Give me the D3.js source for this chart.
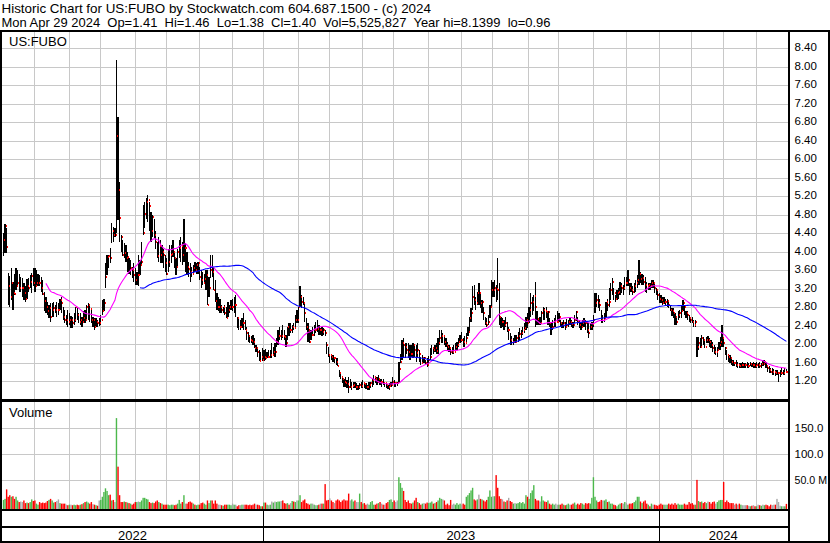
<!DOCTYPE html>
<html><head><meta charset="utf-8">
<script src="https://cdn.jsdelivr.net/npm/d3@7/dist/d3.min.js"></script>
<style>
body{margin:0;background:#fff;}
svg{display:block;font-family:Arial,"Liberation Sans",sans-serif;}
</style></head><body>
<svg id="c" width="830" height="543"></svg>
<script>
// ---- data ----
const highs=[4.40,4.60,4.51,3.55,3.48,3.64,3.35,3.52,3.66,3.61,3.53,3.46,3.43,3.32,3.25,3.41,3.43,3.50,3.55,3.64,
3.64,3.61,3.53,3.50,3.46,3.39,3.14,3.03,2.92,2.85,2.89,2.89,2.92,2.85,2.92,2.89,2.99,3.03,2.81,2.74,
2.63,2.74,2.67,2.61,2.60,2.67,2.81,2.78,2.67,2.67,2.60,2.71,2.74,2.85,2.89,2.85,2.74,2.60,2.56,2.56,
2.53,2.56,2.63,2.96,2.99,3.75,3.93,3.93,4.08,4.62,4.54,4.51,8.14,6.92,5.52,4.36,4.25,4.18,4.15,4.00,
3.86,3.82,3.68,3.75,3.64,3.57,3.93,3.82,4.22,5.01,5.08,5.16,5.23,5.08,4.87,4.80,4.72,4.44,4.22,4.33,
4.25,4.15,4.07,3.93,3.86,4.07,4.15,4.15,4.25,4.00,3.86,4.07,4.25,4.33,4.22,4.72,4.18,4.00,3.79,3.75,
3.68,3.71,3.79,3.75,3.79,3.68,3.61,3.57,3.53,3.61,3.61,3.46,3.93,3.93,3.68,3.39,3.10,3.03,2.99,2.85,
2.81,2.85,2.81,2.92,2.85,2.96,2.99,3.03,3.07,2.60,2.56,2.53,2.56,2.67,2.53,2.38,2.27,2.20,2.17,2.20,
2.13,1.98,1.91,1.88,1.84,1.91,1.88,1.89,1.84,1.88,1.88,2.02,1.95,2.02,2.13,2.31,2.38,2.31,2.42,2.31,
2.20,2.38,2.45,2.45,2.42,2.45,2.63,2.74,2.81,3.26,3.07,3.03,2.89,2.56,2.45,2.31,2.31,2.38,2.42,2.49,
2.53,2.42,2.35,2.38,2.35,2.31,2.06,1.95,1.80,1.77,1.77,1.70,1.70,1.70,1.44,1.37,1.30,1.26,1.30,1.23,
1.30,1.26,1.19,1.19,1.19,1.16,1.12,1.16,1.19,1.23,1.19,1.16,1.12,1.19,1.19,1.26,1.34,1.30,1.30,1.34,
1.26,1.26,1.26,1.19,1.16,1.12,1.16,1.19,1.30,1.23,1.19,1.19,1.62,1.80,2.09,2.13,2.02,2.02,2.02,1.98,
1.98,2.02,1.98,1.98,2.02,1.88,1.73,1.77,1.73,1.66,1.70,1.75,1.91,1.98,1.95,1.98,2.02,2.13,2.31,2.31,
2.24,2.17,2.13,2.06,1.98,1.95,1.95,1.98,2.02,2.06,2.13,2.20,2.27,2.13,2.17,2.24,2.38,2.60,2.78,3.25,
3.28,3.03,3.14,3.32,3.14,2.96,2.81,2.60,2.56,2.63,2.85,3.39,3.35,3.39,3.28,3.86,3.32,2.60,2.56,2.53,
2.60,2.49,2.38,2.24,2.17,2.13,2.20,2.20,2.27,2.35,2.31,2.38,2.45,2.60,2.67,2.81,3.10,3.03,3.07,3.35,
2.71,2.56,2.60,2.71,2.81,2.78,2.81,2.72,2.56,2.49,2.53,2.56,2.63,2.71,2.67,2.53,2.49,2.53,2.49,2.54,
2.53,2.56,2.53,2.49,2.63,2.71,2.60,2.53,2.49,2.53,2.56,2.53,2.49,2.45,2.45,2.49,2.63,3.10,3.10,3.07,
2.99,2.74,2.63,2.67,2.92,2.99,3.21,3.32,3.43,3.21,3.07,3.17,3.21,3.35,3.32,3.28,3.46,3.46,3.61,3.32,
3.32,3.25,3.32,3.39,3.50,3.82,3.57,3.53,3.50,3.46,3.35,3.32,3.32,3.39,3.39,3.32,3.21,3.17,3.10,3.07,
3.03,3.02,2.99,2.99,2.96,2.85,2.78,2.78,2.67,2.60,2.71,2.74,2.85,2.96,2.85,2.71,2.71,2.63,2.60,2.60,
2.53,2.53,2.16,2.16,2.13,2.20,2.16,2.09,2.16,2.18,2.13,2.09,2.06,1.98,1.95,1.95,2.06,2.16,2.42,2.16,
1.95,1.88,1.80,1.77,1.70,1.66,1.62,1.65,1.62,1.60,1.59,1.62,1.59,1.60,1.62,1.60,1.62,1.59,1.62,1.59,
1.62,1.60,1.62,1.59,1.65,1.66,1.62,1.55,1.52,1.48,1.48,1.46,1.44,1.44,1.41,1.44,1.48,1.44,1.48,1.46];
const lows=[3.90,3.97,3.97,2.85,2.80,2.96,2.74,3.07,3.18,3.25,3.14,3.14,3.03,2.96,2.92,2.99,3.14,3.21,3.10,3.25,
3.14,3.25,3.25,3.25,3.14,3.07,2.71,2.67,2.63,2.56,2.49,2.60,2.60,2.67,2.60,2.63,2.74,2.67,2.53,2.45,
2.42,2.38,2.42,2.35,2.35,2.42,2.49,2.53,2.45,2.42,2.38,2.45,2.45,2.53,2.53,2.49,2.45,2.38,2.32,2.38,
2.38,2.40,2.42,2.63,2.71,3.21,3.50,3.64,3.75,4.18,4.22,4.33,4.40,4.69,4.22,4.00,3.90,3.86,3.79,3.57,
3.53,3.50,3.43,3.35,3.28,3.28,3.25,3.50,3.71,4.36,4.51,4.72,4.65,4.44,4.22,4.33,4.29,4.07,3.86,3.79,
3.75,3.75,3.64,3.57,3.50,3.57,3.68,3.75,3.89,3.64,3.50,3.64,3.86,3.79,3.71,3.79,3.57,3.50,3.46,3.35,
3.46,3.53,3.57,3.53,3.53,3.39,3.21,3.28,3.35,3.17,2.85,3.03,3.43,3.46,3.17,2.92,2.74,2.71,2.67,2.67,
2.67,2.63,2.56,2.60,2.67,2.74,2.71,2.67,2.60,2.35,2.31,2.31,2.35,2.31,2.31,2.09,2.06,2.02,2.02,1.98,
1.91,1.84,1.73,1.63,1.66,1.63,1.63,1.66,1.70,1.70,1.70,1.70,1.77,1.73,1.95,1.98,2.09,2.09,2.13,2.09,
1.95,2.09,2.17,2.24,2.24,2.31,2.38,2.45,2.45,2.81,2.78,2.85,2.49,2.31,2.06,2.02,2.09,2.17,2.17,2.24,
2.27,2.20,2.20,2.17,2.20,2.17,1.79,1.73,1.59,1.65,1.62,1.59,1.55,1.52,1.30,1.25,1.16,1.08,1.08,1.05,
0.95,1.05,1.01,1.05,1.05,1.01,1.01,1.03,1.05,1.05,1.05,1.03,1.01,1.01,1.05,1.08,1.12,1.16,1.12,1.16,
1.12,1.08,1.12,1.08,1.05,1.03,1.01,1.08,1.12,1.08,1.08,1.10,1.16,1.59,1.66,1.70,1.70,1.80,1.70,1.66,
1.73,1.70,1.73,1.62,1.73,1.62,1.55,1.59,1.59,1.55,1.50,1.55,1.66,1.77,1.80,1.84,1.80,1.80,1.98,2.02,
2.02,1.98,1.95,1.88,1.84,1.77,1.79,1.80,1.84,1.88,1.95,2.02,2.06,1.95,1.95,2.02,2.17,2.27,2.49,2.74,
2.85,2.74,2.85,2.85,2.78,2.67,2.53,2.42,2.38,2.42,2.56,2.81,3.03,3.03,2.92,2.96,2.42,2.35,2.38,2.31,
2.38,2.27,2.09,1.98,1.98,1.98,2.02,2.04,2.06,2.09,2.13,2.20,2.24,2.31,2.35,2.45,2.60,2.63,2.71,2.38,
2.42,2.42,2.42,2.49,2.53,2.53,2.56,2.42,2.37,2.20,2.31,2.38,2.38,2.45,2.49,2.38,2.35,2.35,2.31,2.37,
2.38,2.42,2.38,2.35,2.45,2.51,2.42,2.35,2.31,2.35,2.38,2.31,2.24,2.13,2.31,2.31,2.37,2.67,2.81,2.78,
2.71,2.45,2.45,2.49,2.60,2.71,2.81,2.96,3.07,2.96,2.92,2.96,2.99,3.07,3.10,3.07,3.17,3.25,3.25,3.07,
3.14,3.07,3.10,3.14,3.21,3.28,3.32,3.28,3.28,3.14,3.10,3.17,3.17,3.21,3.21,3.10,3.07,2.96,2.89,2.89,
2.85,2.87,2.85,2.81,2.78,2.71,2.61,2.56,2.42,2.42,2.53,2.56,2.56,2.71,2.63,2.56,2.53,2.49,2.45,2.45,
2.38,2.38,1.73,1.88,1.91,1.95,1.98,1.91,2.02,2.02,1.95,1.91,1.84,1.80,1.77,1.73,1.88,1.88,1.95,1.95,
1.77,1.66,1.62,1.59,1.55,1.52,1.52,1.50,1.48,1.48,1.48,1.48,1.48,1.48,1.48,1.48,1.52,1.50,1.48,1.48,
1.48,1.48,1.48,1.48,1.52,1.55,1.48,1.41,1.39,1.37,1.34,1.34,1.31,1.34,1.19,1.30,1.34,1.34,1.34,1.38];
const closes=[4.26,4.56,4.11,3.25,3.03,3.33,3.10,3.09,3.25,3.32,3.21,3.21,3.21,3.10,2.98,3.25,3.21,3.35,3.48,3.32,
3.25,3.32,3.33,3.32,3.21,3.09,2.94,2.81,2.71,2.78,2.60,2.74,2.78,2.74,2.74,2.74,2.96,2.89,2.60,2.53,
2.53,2.49,2.53,2.53,2.45,2.53,2.80,2.63,2.49,2.53,2.49,2.56,2.53,2.80,2.85,2.76,2.53,2.53,2.37,2.49,
2.45,2.45,2.53,2.71,2.89,3.46,3.89,3.91,3.86,4.44,4.36,4.36,6.50,5.34,4.74,4.33,3.93,3.97,3.87,3.89,
3.61,3.64,3.61,3.50,3.38,3.50,3.50,3.71,3.79,4.41,4.81,5.08,5.11,4.99,4.46,4.76,4.36,4.22,3.91,4.13,
3.93,4.00,3.93,3.75,3.53,3.79,3.93,3.95,4.00,3.86,3.68,4.00,4.08,4.13,3.93,4.09,4.09,3.68,3.62,3.57,
3.53,3.64,3.61,3.71,3.75,3.46,3.39,3.32,3.41,3.50,2.85,3.21,3.61,3.57,3.17,2.94,2.81,2.81,2.81,2.74,
2.80,2.67,2.56,2.74,2.80,2.81,2.81,2.85,2.85,2.56,2.38,2.38,2.45,2.45,2.32,2.24,2.17,2.09,2.08,2.06,
1.91,1.91,1.84,1.63,1.73,1.66,1.73,1.70,1.73,1.73,1.77,1.77,1.84,1.84,2.06,2.17,2.18,2.18,2.17,2.15,
2.02,2.38,2.31,2.31,2.38,2.35,2.53,2.53,2.80,3.03,2.92,2.89,2.67,2.38,2.31,2.04,2.20,2.20,2.31,2.31,
2.33,2.31,2.31,2.27,2.31,2.24,1.98,1.77,1.77,1.72,1.70,1.70,1.62,1.53,1.37,1.30,1.26,1.19,1.16,1.14,
1.08,1.08,1.10,1.12,1.08,1.08,1.08,1.12,1.10,1.16,1.14,1.08,1.08,1.12,1.16,1.23,1.30,1.24,1.19,1.26,
1.19,1.19,1.16,1.16,1.13,1.08,1.10,1.12,1.19,1.16,1.16,1.16,1.46,1.62,2.02,1.98,1.95,1.88,1.84,1.80,
1.79,1.98,1.88,1.82,1.88,1.80,1.59,1.70,1.70,1.59,1.55,1.66,1.73,1.91,1.88,1.91,1.86,2.02,2.13,2.17,
2.17,2.06,1.98,1.95,1.93,1.84,1.84,1.84,1.95,1.98,2.06,2.09,2.09,2.06,2.02,2.13,2.27,2.56,2.67,3.03,
2.96,2.89,3.10,3.10,2.89,2.92,2.67,2.45,2.42,2.49,2.81,3.17,3.17,3.21,3.19,3.17,2.58,2.49,2.49,2.42,
2.45,2.31,2.31,2.09,2.04,2.06,2.06,2.13,2.17,2.22,2.24,2.31,2.35,2.53,2.45,2.74,2.89,2.92,3.05,2.81,
2.55,2.47,2.47,2.67,2.74,2.71,2.69,2.70,2.47,2.35,2.38,2.49,2.49,2.49,2.60,2.45,2.42,2.45,2.37,2.42,
2.49,2.49,2.43,2.42,2.53,2.69,2.49,2.42,2.37,2.45,2.49,2.45,2.31,2.24,2.38,2.44,2.53,2.89,2.96,2.89,
2.85,2.53,2.53,2.56,2.92,2.85,2.92,3.17,3.35,3.10,2.97,3.10,3.14,3.25,3.21,3.21,3.32,3.32,3.39,3.21,
3.17,3.14,3.25,3.32,3.39,3.53,3.41,3.43,3.35,3.28,3.25,3.28,3.25,3.32,3.32,3.21,3.17,3.07,2.99,2.96,
2.89,2.92,2.92,2.94,2.85,2.74,2.71,2.67,2.60,2.49,2.63,2.67,2.71,2.89,2.81,2.67,2.63,2.56,2.53,2.49,
2.42,2.49,1.95,2.02,1.95,2.13,2.09,1.95,2.09,2.09,2.06,1.98,1.91,1.84,1.84,1.88,1.98,2.06,2.13,2.02,
1.91,1.77,1.73,1.70,1.62,1.59,1.59,1.55,1.55,1.53,1.55,1.55,1.55,1.55,1.53,1.53,1.57,1.55,1.55,1.53,
1.55,1.55,1.53,1.57,1.57,1.62,1.53,1.48,1.44,1.41,1.41,1.41,1.37,1.37,1.37,1.37,1.39,1.39,1.41,1.40];
const volumes=[13,15,33,19,22,19,20,15,19,12,9,10,9,12,7,8,7,9,14,11,
12,6,4,9,7,8,7,8,11,13,15,12,8,9,11,14,7,6,6,6,
4,3,4,4,3,4,3,4,3,4,5,7,9,10,8,6,9,5,4,3,
2,12,13,19,28,35,30,22,23,12,13,9,168,76,22,9,9,10,9,8,
7,6,4,6,9,9,10,9,12,17,17,15,14,9,7,8,7,10,12,9,
7,6,4,4,4,4,3,4,4,3,4,6,13,6,9,22,6,6,9,10,
8,6,4,3,4,4,7,8,6,4,12,7,12,12,6,12,6,4,4,3,
2,4,4,4,4,3,6,4,4,1,3,3,4,4,4,4,3,4,3,4,
6,4,4,3,1,1,8,8,4,3,4,10,8,10,9,10,10,11,12,7,
6,7,4,7,11,10,9,12,12,22,9,12,14,7,6,4,6,6,4,3,
3,4,6,6,6,43,12,13,16,12,9,7,12,14,12,9,12,14,12,12,
25,12,14,10,12,9,9,25,9,6,7,4,6,4,9,11,4,4,6,7,
9,6,4,4,7,9,13,14,9,12,9,12,56,45,36,30,13,9,12,7,
6,8,12,17,9,7,4,6,7,6,8,7,8,10,6,7,9,12,17,15,
14,12,4,6,3,13,4,6,4,7,4,6,4,6,4,19,22,26,31,36,
14,12,14,23,15,14,12,10,13,19,31,19,20,20,60,36,20,15,14,10,
9,12,17,11,9,6,7,6,7,9,7,9,6,22,19,15,26,31,41,15,
12,12,10,20,12,10,9,12,6,4,6,4,6,4,4,4,6,4,3,4,
6,4,4,6,8,4,6,4,7,6,4,7,6,7,6,17,56,19,12,9,
10,13,12,12,14,9,10,6,6,4,3,1,4,6,7,6,9,7,4,6,
6,7,9,12,19,19,10,7,10,12,6,4,1,6,4,4,3,2,4,6,
4,4,4,4,6,4,6,4,7,4,6,4,4,4,6,4,4,9,6,7,
4,4,51,11,9,10,7,9,7,10,9,6,9,10,6,9,12,13,13,47,
9,12,9,7,7,7,4,6,4,6,4,3,3,3,3,2,1,2,3,1,
1,4,3,2,4,3,4,3,1,4,3,4,4,15,9,2,1,1,1,5.5];
const priceTicks=[1.20,1.60,2.00,2.40,2.80,3.20,3.60,4.00,4.40,4.80,5.20,5.60,6.00,6.40,6.80,7.20,7.60,8.00,8.40];
const volTicks=[50,100,150];
const volTickLabels=["50.0 M","100.0","150.0"];
const monthStarts=[20,42,62,84,104,125,146,166,188,208,229,249,271,292,312,335,354,376,397,418,439,459,480];
const years=["2022","2023","2024"];
const yearStarts=[0,166,418];
const maPeriods=[28,88];
const maColors=["#ff00ff","#0000ff"];
const header1="Historic Chart for US:FUBO by Stockwatch.com 604.687.1500 - (c) 2024";
const header2="Mon Apr 29 2024  Op=1.41  Hi=1.46  Lo=1.38  Cl=1.40  Vol=5,525,827  Year hi=8.1399  lo=0.96";

// ---- layout ----
const N=closes.length;
const svg=d3.select('#c');
const L=2,R=788, pTop=32,pBot=399, vTop=402,vBot=509;
const x=d3.scaleLinear().domain([0,N-1]).range([3.5,786.4]);
const dx=x(1)-x(0);
const yP=d3.scaleLinear().domain([1.2,8.4]).range([381.3,48.3]);
const yV=d3.scaleLinear().domain([0,200]).range([506.8,401.2]);
const grid="#c8c8c8";

svg.append('rect').attr('width',830).attr('height',543).attr('fill','#fff');
const defs=svg.append('defs');
defs.append('clipPath').attr('id','cp').append('rect').attr('x',L).attr('y',pTop).attr('width',R-L).attr('height',pBot-pTop);
defs.append('clipPath').attr('id','cv').append('rect').attr('x',L).attr('y',vTop).attr('width',R-L).attr('height',vBot-vTop);

// grid
const g=svg.append('g').attr('shape-rendering','crispEdges');
g.selectAll('.hp').data(priceTicks).join('line')
 .attr('x1',L).attr('x2',R).attr('y1',d=>Math.round(yP(d))+0.5).attr('y2',d=>Math.round(yP(d))+0.5)
 .attr('stroke',grid);
g.selectAll('.hv').data(volTicks).join('line')
 .attr('x1',L).attr('x2',R).attr('y1',d=>Math.round(yV(d))+0.5).attr('y2',d=>Math.round(yV(d))+0.5)
 .attr('stroke',grid);
const mx=m=>Math.round(x(m)-dx/2)+0.5;
g.selectAll('.vp').data(monthStarts).join('line')
 .attr('x1',mx).attr('x2',mx).attr('y1',pTop).attr('y2',pBot).attr('stroke',grid);
g.selectAll('.vv').data(monthStarts).join('line')
 .attr('x1',mx).attr('x2',mx).attr('y1',vTop).attr('y2',vBot).attr('stroke',grid);

// price bars
const idx=d3.range(N);
const pb=svg.append('g').attr('clip-path','url(#cp)').attr('shape-rendering','crispEdges');
pb.selectAll('rect.b').data(idx).join('rect')
 .attr('x',i=>x(i)-0.6).attr('width',1.25)
 .attr('y',i=>Math.round(yP(highs[i]))).attr('height',i=>Math.max(1,Math.round(yP(lows[i]))-Math.round(yP(highs[i]))))
 .attr('fill','#000');
pb.selectAll('rect.c').data(idx).join('rect')
 .attr('x',i=>Math.round(x(i)+0.75)).attr('width',1)
 .attr('y',i=>Math.round(yP(closes[i]))-1).attr('height',2)
 .attr('fill','#ff0000');

// moving averages
maPeriods.forEach((p,k)=>{
  const pts=[];
  for(let i=p-1;i<N;i++){pts.push([i,d3.mean(closes.slice(i-p+1,i+1))]);}
  svg.append('path').attr('clip-path','url(#cp)').datum(pts)
   .attr('d',d3.line().x(d=>x(d[0])).y(d=>yP(d[1])))
   .attr('fill','none').attr('stroke',maColors[k]).attr('stroke-width',1.1);
});

// volume bars
const vcol=i=> i===0?'#4cb84c':(closes[i]>closes[i-1]?'#4cb84c':(closes[i]<closes[i-1]?'#ff0000':'#a8a8a8'));
svg.append('g').attr('clip-path','url(#cv)').selectAll('rect').data(idx).join('rect')
 .attr('x',i=>x(i)-0.7).attr('width',1.4)
 .attr('y',i=>yV(volumes[i])).attr('height',i=>vBot-yV(volumes[i]))
 .attr('fill',vcol);

// text
const t=svg.append('g').attr('fill','#000');
t.append('text').attr('x',1.5).attr('y',12.5).attr('font-size',13.4).text(header1);
t.append('text').attr('x',1.5).attr('y',27).attr('font-size',13.4).attr('xml:space','preserve').style('white-space','pre')
 .attr('textLength',549).attr('lengthAdjust','spacingAndGlyphs').text(header2);
t.append('text').attr('x',9).attr('y',45.5).attr('font-size',13).text('US:FUBO');
t.append('text').attr('x',9).attr('y',417).attr('font-size',13).text('Volume');
t.selectAll('.pl').data(priceTicks).join('text').attr('x',794.5).attr('y',d=>yP(d)+3)
 .attr('font-size',11.5).text(d=>d.toFixed(2));
t.selectAll('.vl').data(volTicks).join('text').attr('x',794.5).attr('y',d=>yV(d)+4)
 .attr('font-size',11.5).text((d,i)=>volTickLabels[i])
 .each(function(){const w=this.getComputedTextLength(); if(w>32.5){d3.select(this).attr('textLength',32.5).attr('lengthAdjust','spacingAndGlyphs');}});
const yEnds=yearStarts.slice(1).concat([N-0.5]);
t.selectAll('.yl').data(years).join('text')
 .attr('x',(d,i)=>{const a=i===0?L:x(yearStarts[i]-0.5),b=i===years.length-1?R:x(yEnds[i]-0.5);return (a+b)/2;})
 .attr('y',539.5).attr('text-anchor','middle').attr('font-size',13).text(d=>d);

// frames
const f=svg.append('g').attr('fill','#000').attr('shape-rendering','crispEdges');
f.append('rect').attr('x',0).attr('y',29.5).attr('width',830).attr('height',2.5);
f.append('rect').attr('x',0).attr('y',30).attr('width',2).attr('height',513);
f.append('rect').attr('x',R).attr('y',30).attr('width',2).attr('height',513);
f.append('rect').attr('x',828).attr('y',30).attr('width',2).attr('height',513);
f.append('rect').attr('x',L).attr('y',pBot).attr('width',R-L).attr('height',3);
f.append('rect').attr('x',L).attr('y',vBot).attr('width',R-L).attr('height',2);
f.append('rect').attr('x',L).attr('y',526).attr('width',R-L).attr('height',1.5);
f.append('rect').attr('x',0).attr('y',541).attr('width',830).attr('height',2);
f.selectAll('.yd').data(yearStarts.slice(1)).join('rect')
 .attr('x',d=>Math.round(x(d)-dx/2)).attr('y',vBot).attr('width',1).attr('height',32);
</script>
</body></html>
